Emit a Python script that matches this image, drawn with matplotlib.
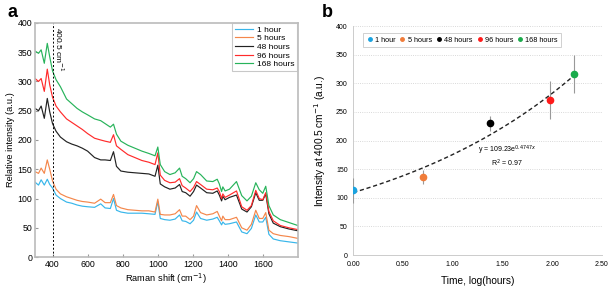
import numpy as np
import matplotlib
matplotlib.use("Agg")
import matplotlib.pyplot as plt

plt.rcParams['font.family'] = ['Liberation Sans', 'DejaVu Sans']

# ---- panel a: Raman spectra ----
wavenumber = [300, 320, 335, 353, 370, 384, 400, 420, 445, 480, 510, 540, 570, 600,
              640, 675, 700, 730, 748, 765, 790, 830, 870, 910, 950, 985, 1001, 1015,
              1040, 1070, 1100, 1125, 1140, 1160, 1185, 1205, 1222, 1245, 1280, 1315,
              1340, 1352, 1365, 1372, 1385, 1410, 1450, 1480, 1510, 1535, 1560, 1580,
              1600, 1617, 1635, 1660, 1700, 1750, 1800]

spec_1h = [128, 123, 132, 123, 133, 124, 118, 106, 100, 94, 92, 89, 87, 86,
           85, 91, 84, 83, 100, 80, 77, 75, 75, 75, 74, 73, 95, 66,
           64, 63, 65, 72, 62, 61, 57, 63, 77, 66, 63, 65,
           68, 62, 55, 60, 56, 57, 60, 43, 40, 49, 72, 60,
           60, 68, 39, 31, 28, 26, 24]
spec_5h = [146, 143, 152, 143, 166, 150, 130, 116, 108, 103, 100, 97, 95, 94,
           92, 99, 93, 93, 107, 88, 84, 81, 80, 79, 79, 77, 99, 73,
           72, 72, 74, 81, 70, 70, 64, 70, 88, 76, 72, 74,
           78, 70, 62, 70, 64, 64, 68, 50, 46, 56, 80, 66,
           66, 76, 46, 40, 37, 35, 32]
spec_48h = [254, 250, 258, 237, 271, 248, 228, 215, 205, 197, 193, 190, 186, 181,
            170, 166, 166, 165, 180, 155, 147, 145, 144, 143, 142, 138, 157, 125,
            120, 116, 118, 124, 112, 110, 104, 112, 123, 118, 110, 109,
            113, 106, 96, 104, 98, 102, 106, 82, 77, 86, 110, 97,
            97, 108, 74, 58, 52, 48, 45]
spec_96h = [305, 300, 305, 283, 321, 294, 273, 258, 248, 236, 230, 224, 218, 211,
            203, 200, 198, 196, 209, 190, 184, 175, 170, 165, 162, 158, 178, 140,
            131, 127, 128, 134, 122, 118, 112, 119, 129, 124, 116, 115,
            118, 112, 100, 108, 102, 106, 113, 86, 80, 88, 114, 100,
            98, 110, 78, 62, 54, 50, 47]
spec_168h = [352, 348, 354, 331, 365, 342, 318, 303, 291, 270, 262, 254, 248, 243,
             236, 233, 228, 222, 227, 210, 198, 191, 186, 181, 177, 173, 188, 158,
             146, 141, 144, 152, 138, 134, 127, 134, 146, 141, 130, 129,
             133, 125, 112, 120, 113, 116, 129, 105, 96, 104, 127, 115,
             109, 121, 88, 72, 64, 59, 54]

labels = ['1 hour', '5 hours', '48 hours', '96 hours', '168 hours']
line_colors = ['#38b6ea', '#f4874b', '#222222', '#ff2b2b', '#27b35a']

# ---- panel b: intensity at 400.5 cm-1 ----
log_time = [0.00, 0.70, 1.38, 1.98, 2.22]
intensity = [113, 137, 230, 271, 316]
intensity_err = [22, 12, 13, 33, 33]
dot_colors = ['#1aa3e0', '#f07c3a', '#000000', '#ff1a1a', '#1aab4b']
fit_a, fit_b = 109.23, 0.4747

fig = plt.figure(figsize=(6.09, 2.86), dpi=100)

# panel a
ax1 = fig.add_axes([0.0575, 0.101, 0.4315, 0.819])
for y, lab, c in zip([spec_1h, spec_5h, spec_48h, spec_96h, spec_168h], labels, line_colors):
    ax1.plot(wavenumber, y, color=c, lw=0.85, label=lab)
ax1.axvline(400.5, color='black', ls=(0, (2, 2)), lw=0.7)
ax1.text(404, 393, '400.5 cm$^{-1}$', rotation=-90, va='top', ha='left', fontsize=6)
ax1.set_xlim(300, 1800)
ax1.set_ylim(0, 400)
ax1.set_xticks(range(400, 1601, 200))
ax1.set_yticks(range(0, 401, 50))
ax1.tick_params(labelsize=6.3, length=2, color='#999999', direction='in', pad=2)
for s in ax1.spines.values():
    s.set_color('#bbbbbb')
    s.set_linewidth(1.2)
ax1.set_xlabel('Raman shift (cm$^{-1}$)', fontsize=6.7, labelpad=1.5)
ax1.set_ylabel('Relative intensity (a.u.)', fontsize=6.7, labelpad=2)
leg = ax1.legend(loc='upper right', fontsize=6, handlelength=2.2, borderaxespad=0.05,
                 fancybox=False, edgecolor='#bbbbbb', labelspacing=0.1,
                 borderpad=0.3, handletextpad=0.5)
leg.get_frame().set_linewidth(0.8)

# panel b
ax2 = fig.add_axes([0.58, 0.108, 0.408, 0.801])
xs = np.linspace(0, max(log_time), 100)
ax2.plot(xs, fit_a * np.exp(fit_b * xs), color='#222222', ls=(0, (3, 2)), lw=1.0, zorder=2)
for x, y, e, c, lab in zip(log_time, intensity, intensity_err, dot_colors, labels):
    ax2.errorbar(x, y, yerr=e, fmt='o', color=c, ms=4.5, ecolor='#999999',
                 elinewidth=0.8, capsize=0, label=lab, zorder=3)
ax2.text(1.55, 172, 'y = 109.23e$^{0.4747x}$\nR$^2$ = 0.97', fontsize=5,
         ha='center', va='center', multialignment='center', linespacing=1.1)
ax2.set_xlim(0, 2.5)
ax2.set_ylim(0, 400)
ax2.set_xticks(np.arange(0, 2.51, 0.5))
ax2.set_xticklabels([f'{v:.2f}' for v in np.arange(0, 2.51, 0.5)])
ax2.set_yticks(range(0, 401, 50))
ax2.tick_params(labelsize=5, length=0, pad=4)
ax2.grid(axis='y', color='#cccccc', ls=':', lw=0.6)
ax2.set_axisbelow(True)
for k in ['top', 'right']:
    ax2.spines[k].set_visible(False)
for k in ['left', 'bottom']:
    ax2.spines[k].set_color('#cccccc')
    ax2.spines[k].set_linewidth(0.7)
ax2.set_xlabel('Time, log(hours)', fontsize=7.3, labelpad=6)
ax2.set_ylabel('Intensity at 400.5 cm$^{-1}$ (a.u.)', fontsize=7.3, labelpad=6)
handles = [plt.Line2D([], [], marker='o', ls='', color=c, ms=2.5) for c in dot_colors]
leg2 = ax2.legend(handles, labels, loc='upper left', bbox_to_anchor=(0.025, 0.985), ncol=5,
                  fontsize=5.2, fancybox=False, edgecolor='#bbbbbb', handlelength=0.8,
                  handletextpad=0.3, columnspacing=0.6, borderpad=0.5)
leg2.get_frame().set_linewidth(0.6)

fig.text(0.012, 0.955, 'a', fontsize=13, fontweight='bold', va='center')
fig.text(0.528, 0.955, 'b', fontsize=13, fontweight='bold', va='center')

fig.savefig('out.png', dpi=100)
